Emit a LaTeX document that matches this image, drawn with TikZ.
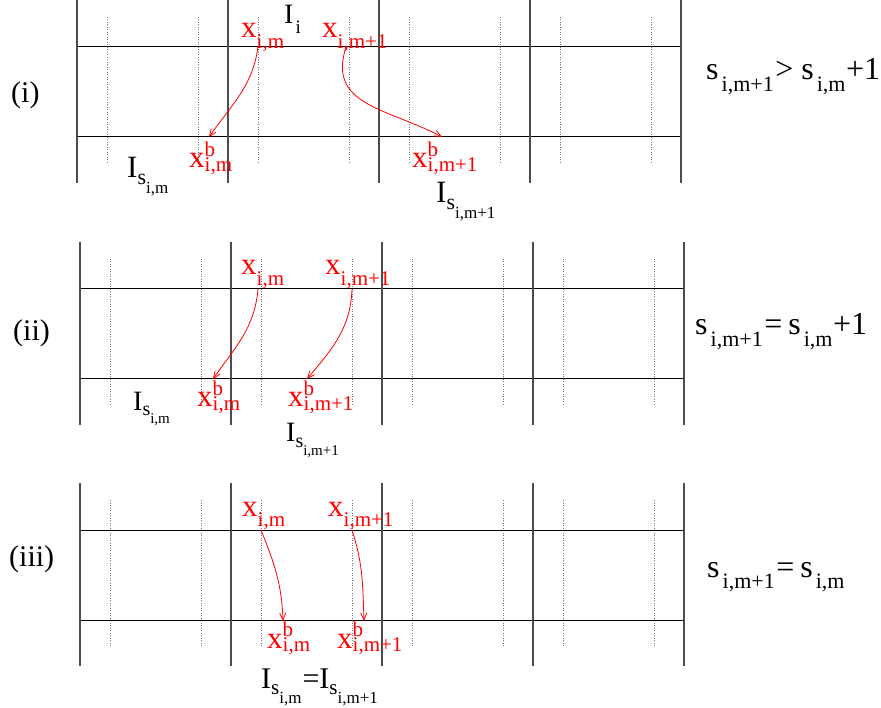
\documentclass[tikz,border=0pt]{standalone}
\usepackage{amsmath}
\usepackage{fontspec}
\setmainfont{Liberation Serif}
\usetikzlibrary{arrows.meta}
\newcommand{\fsz}[1]{\fontsize{#1}{#1}\selectfont}
\newcommand{\sz}[2]{\text{\fontsize{#1}{#1}\selectfont #2}}
\newcommand{\gridpanel}[2]{%
  \begin{scope}[shift={(#1,#2)}]
    \foreach \k in {0,...,3} {
      \draw[dotline] (151*\k+30,-30) -- (151*\k+30,117);
      \draw[dotline] (151*\k+121,-30) -- (151*\k+121,117);
    }
    \draw[hline] (0,0) -- (604,0);
    \draw[hline] (0,90) -- (604,90);
    \foreach \k in {0,...,4} \draw[vline] (151*\k,-47) -- (151*\k,136);
  \end{scope}}
% red point labels
\newcommand{\xs}[1]{$\sz{31}{x}_{\sz{21}{#1}}$}
\newcommand{\xb}[1]{$\sz{31}{x}^{\sz{21}{b}}_{\sz{21}{#1}}$}
% interval labels
\newcommand{\Is}[2]{\sz{#1}{I}_{\sz{\numexpr #1*7/10\relax}{s}_{\sz{\numexpr #1*11/20\relax}{#2}}}}
\newcommand{\Ss}[1]{\sz{32}{s}_{\hspace{3pt}\sz{22}{#1}}}
\tikzset{
  vline/.style={line width=1.3pt, black!70},
  hline/.style={line width=1pt, black},
  dotline/.style={line width=0.9pt, black!55, dash pattern=on 0.9pt off 1.6pt},
  redlab/.style={text=red, inner sep=0pt, anchor=base west},
  ilab/.style={text=black, inner sep=0pt, anchor=base west},
  eqlab/.style={text=black, inner sep=0pt, anchor=base west},
  plab/.style={text=black, font=\fsz{30}, inner sep=0pt, anchor=base west},
  mapto/.style={red, line width=0.8pt, -{Straight Barb[length=7pt,width=6pt]}}
}
\begin{document}
\begin{tikzpicture}[x=1pt,y=-1pt]
\useasboundingbox (0,0) rectangle (881,708);

% ---------- grids
\gridpanel{77}{47}
\gridpanel{80}{289}
\gridpanel{80}{530}

% ---------- panel (i)
\node[plab] (p1) at (11,103) {(i)};
\node[ilab] (Ii) at (284,24) {$\sz{28}{I}_{\hspace{2pt}\sz{19}{i}}$};
\node[redlab] (x1a) at (241,38) {\xs{i,m}};
\node[redlab] (x1b) at (322,38) {\xs{i,m+1}};
\node[redlab] (b1a) at (189,168) {\xb{i,m}};
\node[redlab] (b1b) at (412,168) {\xb{i,m+1}};
\node[ilab] (I1a) at (127,178) {$\Is{31}{i,m}$};
\node[ilab] (I1b) at (436,203) {$\Is{31}{i,m+1}$};
\node[eqlab] (e1) at (706,80) {$\Ss{i,m+1}\hspace{1pt}\sz{32}{>}\hspace{8pt}\Ss{i,m}\sz{32}{+1}$};
\coordinate (a1s) at (258,47);
\coordinate (a1e) at (209,137);
\coordinate (a2s) at (346,47);
\coordinate (a2e) at (442,137);
\draw[mapto] (a1s) to[out=-98,in=55] (a1e);
\draw[mapto] (a2s) to[out=-108,in=152,looseness=1.2] (a2e);

% ---------- panel (ii)
\node[plab] (p2) at (13,341) {(ii)};
\node[redlab] (x2a) at (241,275) {\xs{i,m}};
\node[redlab] (x2b) at (325,275) {\xs{i,m+1}};
\node[redlab] (b2a) at (197,407) {\xb{i,m}};
\node[redlab] (b2b) at (288,407) {\xb{i,m+1}};
\node[ilab] (I2a) at (133,410) {$\Is{28}{i,m}$};
\node[ilab] (I2b) at (286,442) {$\Is{28}{i,m+1}$};
\node[eqlab] (e2) at (695,335) {$\Ss{i,m+1}\hspace{1pt}\sz{32}{=}\hspace{6pt}\Ss{i,m}\sz{32}{+1}$};
\coordinate (a3s) at (258,289);
\coordinate (a3e) at (213,379);
\coordinate (a4s) at (352,289);
\coordinate (a4e) at (307,379);
\draw[mapto] (a3s) to[out=-95,in=55] (a3e);
\draw[mapto] (a4s) to[out=-92,in=50] (a4e);

% ---------- panel (iii)
\node[plab] (p3) at (9,566) {(iii)};
\node[redlab] (x3a) at (242,516) {\xs{i,m}};
\node[redlab] (x3b) at (328,516) {\xs{i,m+1}};
\node[redlab] (b3a) at (267,648) {\xb{i,m}};
\node[redlab] (b3b) at (337,648) {\xb{i,m+1}};
\node[ilab] (I3) at (261,688) {$\Is{30}{i,m}\sz{30}{=}\Is{30}{i,m+1}$};
\node[eqlab] (e3) at (707,577) {$\Ss{i,m+1}\hspace{1pt}\sz{32}{=}\hspace{6pt}\Ss{i,m}$};
\coordinate (a5s) at (261,530);
\coordinate (a5e) at (283,621);
\coordinate (a6s) at (352,530);
\coordinate (a6e) at (364,621);
\draw[mapto] (a5s) to[out=-68,in=92] (a5e);
\draw[mapto] (a6s) to[out=-72,in=92] (a6e);
\end{tikzpicture}
\end{document}
